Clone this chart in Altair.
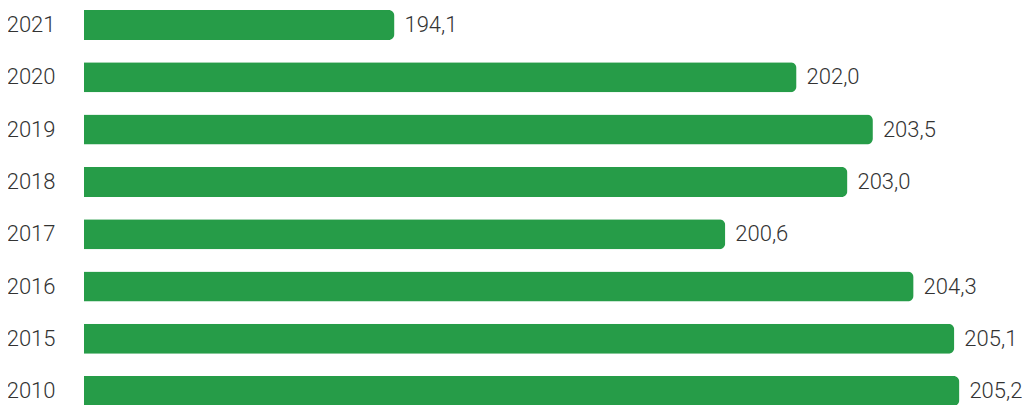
import altair as alt
import pandas as pd

years = ["2021", "2020", "2019", "2018", "2017", "2016", "2015", "2010"]
values = [194.1, 202.0, 203.5, 203.0, 200.6, 204.3, 205.1, 205.2]
labels = [f"{v:.1f}".replace(".", ",") for v in values]

df = pd.DataFrame({"year": years, "value": values, "label": labels})

FONT = "Roboto"
GREEN = "#269c48"
TEXT = "#333333"

step = 52.3
y_scale = alt.Scale(domain=years, range=[2, 2 + step * (8 - 0.426)],
                    paddingInner=0.426, paddingOuter=0)
x_scale = alt.Scale(domain=[188, 206.43], zero=False, nice=False, clamp=True)

base = alt.Chart(df).encode(
    y=alt.Y("year:N", sort=years, scale=y_scale,
            axis=alt.Axis(title=None, domain=False, ticks=False, grid=False,
                          labelFont=FONT, labelFontSize=22, labelFontWeight=300,
                          labelColor=TEXT, labelPadding=29)),
    x=alt.X("value:Q", scale=x_scale, axis=None),
)

bars = base.mark_bar(color=GREEN, cornerRadiusEnd=6)
text = base.mark_text(align="left", baseline="middle", dx=10, font=FONT,
                      fontSize=22, fontWeight=300, color=TEXT).encode(text="label:N")

chart = (bars + text).properties(
    width=938, height=399,
    autosize=alt.AutoSizeParams(type="none"),
    padding={"left": 76, "top": 0, "right": 0, "bottom": 0},
).configure_view(stroke=None)

chart.save("out.html", embed_options={"renderer": "svg", "actions": False})
